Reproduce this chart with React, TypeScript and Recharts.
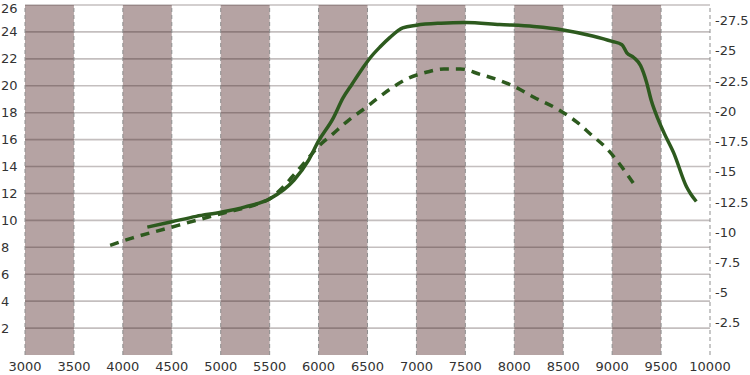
import React from "react";
import {
  LineChart,
  Line,
  XAxis,
  YAxis,
  ReferenceArea,
  ReferenceLine,
} from "recharts";

// Tick labels
const xTicks = [3000, 3500, 4000, 4500, 5000, 5500, 6000, 6500, 7000, 7500, 8000, 8500, 9000, 9500, 10000];
const leftTicks = [2, 4, 6, 8, 10, 12, 14, 16, 18, 20, 22, 24, 26];
const rightTicks = [-27.5, -25, -22.5, -20, -17.5, -15, -12.5, -10, -7.5, -5, -2.5];

// Shaded bands (start rpm)
const bandStarts = [3000, 4000, 5000, 6000, 7000, 8000, 9000];
const bandWidth = 500;

// Solid series
const solidRpm = [
  4250, 4500, 4750, 5000, 5250, 5500, 5750, 5900, 6000, 6150, 6250, 6340, 6450, 6530, 6630,
  6730, 6860, 7000, 7250, 7500, 7850, 8200, 8500, 8800, 9000, 9100, 9150, 9220, 9290, 9350,
  9400, 9470, 9530, 9630, 9760, 9800, 9860,
];
const solidValues = [
  9.5, 9.9, 10.3, 10.6, 11.0, 11.6, 13.0, 14.5, 15.9, 17.6, 19.1, 20.1, 21.3, 22.1, 22.9,
  23.6, 24.3, 24.5, 24.65, 24.7, 24.55, 24.4, 24.15, 23.7, 23.3, 23.05, 22.45, 22.1, 21.5, 20.3,
  18.9, 17.5, 16.5, 15.0, 12.5, 12.0, 11.4,
];

// Dashed series
const dashedRpm = [
  3870, 4100, 4450, 4800, 5030, 5370, 5500, 5620, 5750, 5880, 6000, 6150, 6300, 6450, 6600,
  6750, 6900, 7100, 7280, 7450, 7650, 7850, 8000, 8200, 8470, 8640, 8780, 8950, 9080, 9250,
];
const dashedValues = [
  8.15, 8.7, 9.4, 10.1, 10.55, 11.2, 11.6, 12.35, 13.4, 14.5, 15.5, 16.45, 17.4, 18.2, 19.05,
  19.85, 20.5, 21.0, 21.25, 21.25, 20.85, 20.4, 19.95, 19.15, 18.15, 17.3, 16.4, 15.3, 14.15, 12.4,
];

const solidData = solidRpm.map((rpm, i) => ({ rpm, v: solidValues[i] }));
const dashedData = dashedRpm.map((rpm, i) => ({ rpm, v: dashedValues[i] }));

const FONT = "'DejaVu Sans', Verdana, sans-serif";
const TEXT = "#333333";
const GREEN = "#2d5a1e";
const GRID_HALF = 0.06; // half thickness of a grid strip, in left-axis units

const LeftTick = (props: any) => (
  <text x={1} y={Math.max(props.y, 8)} dy={4.5} textAnchor="start" fontSize={13} fill={TEXT} fontFamily={FONT}>
    {props.payload.value}
  </text>
);

const RightTick = (props: any) => (
  <text x={715} y={props.y} dy={4.5} textAnchor="start" fontSize={13} fill={TEXT} fontFamily={FONT}>
    {props.payload.value}
  </text>
);

const BottomTick = (props: any) => (
  <text x={props.x} y={371} textAnchor="middle" fontSize={13} fill={TEXT} fontFamily={FONT}>
    {props.payload.value}
  </text>
);

export default function App() {
  return (
    <div style={{ position: "absolute", left: 0, top: 0, width: 750, height: 375, background: "#fff" }}>
      <LineChart width={750} height={375} margin={{ top: 5, right: 0, bottom: 0, left: 0 }}>
        <XAxis
          dataKey="rpm"
          type="number"
          domain={[3000, 10000]}
          ticks={xTicks}
          interval={0}
          axisLine={false}
          tickLine={false}
          height={20}
          tick={BottomTick}
          allowDataOverflow
        />
        <YAxis
          yAxisId="left"
          orientation="left"
          domain={[0, 26]}
          ticks={leftTicks}
          interval={0}
          width={25}
          axisLine={false}
          tickLine={false}
          tick={LeftTick}
          allowDataOverflow
        />
        <YAxis
          yAxisId="right"
          orientation="right"
          domain={[-28.8, 0.15]}
          reversed
          ticks={rightTicks}
          interval={0}
          width={40}
          axisLine={false}
          tickLine={false}
          tick={RightTick}
          allowDataOverflow
        />
        {bandStarts.map((s) => (
          <ReferenceArea
            key={"b" + s}
            yAxisId="left"
            x1={s}
            x2={s + bandWidth}
            y1={0}
            y2={26}
            fill="#785858"
            fillOpacity={0.55}
            stroke="none"
            ifOverflow="hidden"
          />
        ))}
        {leftTicks.map((t) => (
          <ReferenceArea
            key={"g" + t}
            yAxisId="left"
            x1={3000}
            x2={10000}
            y1={t - GRID_HALF}
            y2={t + GRID_HALF}
            fill="#2a1a1a"
            fillOpacity={0.28}
            stroke="none"
            ifOverflow="visible"
          />
        ))}
        {xTicks.map((t) => (
          <ReferenceLine
            key={"v" + t}
            yAxisId="left"
            x={t}
            stroke="#8f8f8f"
            strokeWidth={1}
            strokeDasharray="4 3"
          />
        ))}
        <Line
          yAxisId="left"
          data={solidData}
          dataKey="v"
          type="monotone"
          stroke={GREEN}
          strokeWidth={3.5}
          dot={false}
          activeDot={false}
          isAnimationActive={false}
        />
        <Line
          yAxisId="left"
          data={dashedData}
          dataKey="v"
          type="monotone"
          stroke={GREEN}
          strokeWidth={3.5}
          strokeDasharray="9 7"
          dot={false}
          activeDot={false}
          isAnimationActive={false}
        />
      </LineChart>
    </div>
  );
}
